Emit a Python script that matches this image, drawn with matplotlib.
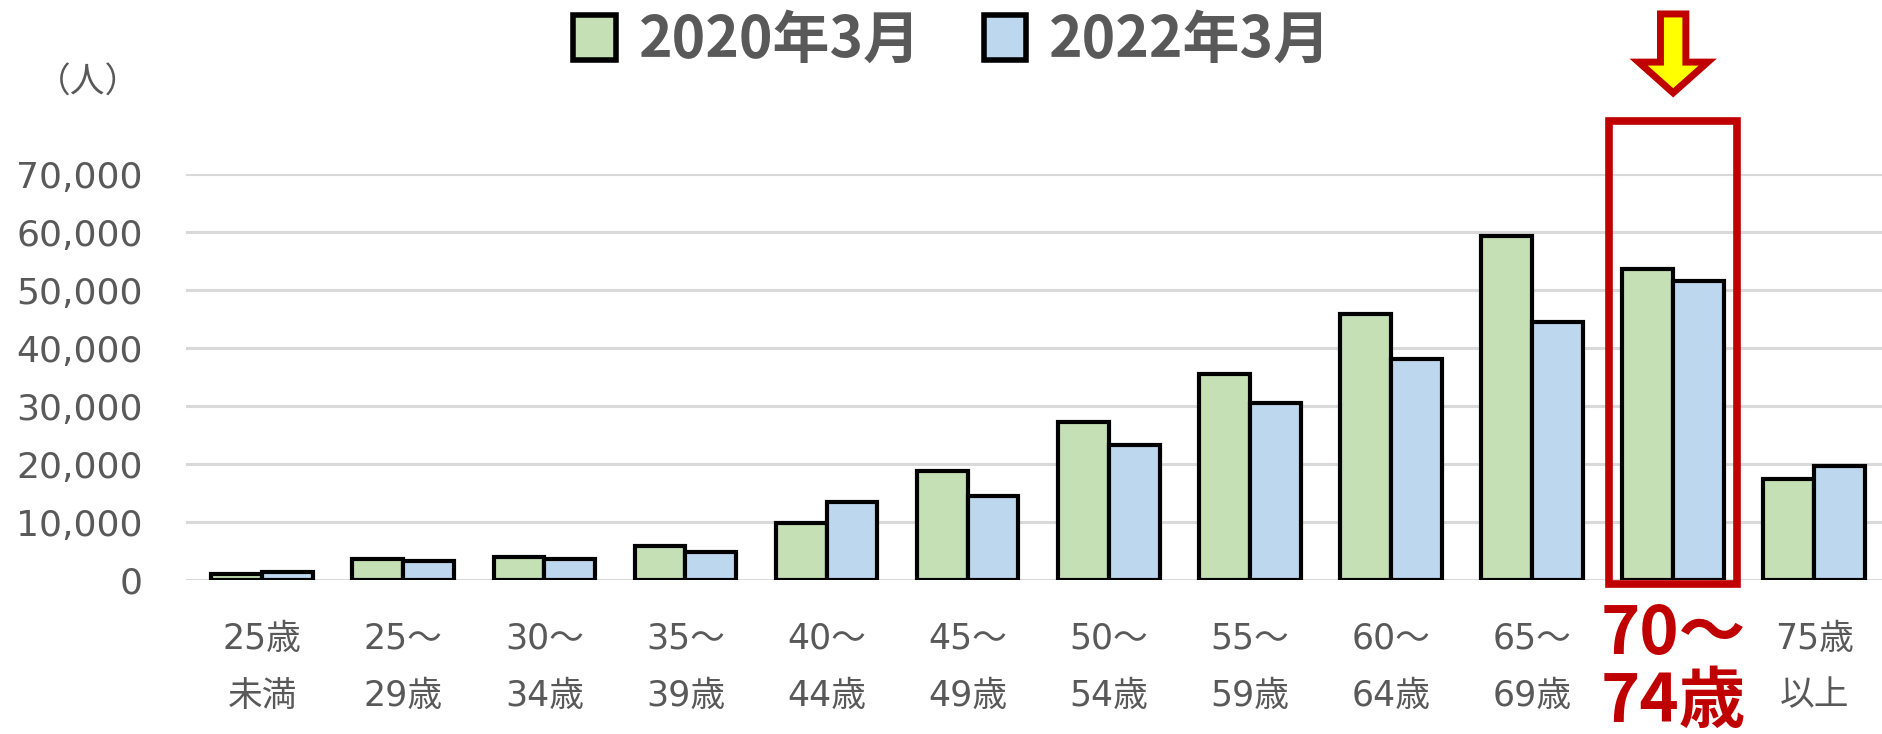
import numpy as np
import matplotlib
matplotlib.use("Agg")
import matplotlib.pyplot as plt
from matplotlib.patches import Patch, Rectangle, Polygon

plt.rcParams['font.family'] = ['Noto Sans CJK JP', 'DejaVu Sans']
latin_first = ['DejaVu Sans', 'Noto Sans CJK JP']

#%% Data
age_groups = ["25歳\n未満", "25～\n29歳", "30～\n34歳", "35～\n39歳", "40～\n44歳", "45～\n49歳",
              "50～\n54歳", "55～\n59歳", "60～\n64歳", "65～\n69歳", "70～\n74歳", "75歳\n以上"]
mar_2020 = [1000, 3700, 3900, 5800, 9900, 18800, 27300, 35600, 45800, 59400, 53600, 17400]
mar_2022 = [1400, 3300, 3700, 4800, 13500, 14500, 23200, 30600, 38100, 44500, 51600, 19700]
series_names = ["2020年3月", "2022年3月"]
y_ticks = [0, 10000, 20000, 30000, 40000, 50000, 60000, 70000]
highlight = 10   # 70～74歳

green = "#c5e0b4"
blue = "#bdd7ee"
red = "#c00000"
grey_txt = "#595959"

#%% Figure
fig = plt.figure(figsize=(18.82, 7.34), dpi=100)
ax = fig.add_axes([0.0988, 0.2098, 0.9012, 0.5531])

x = np.arange(len(age_groups))
w = 0.36
ax.bar(x - w/2, mar_2020, width=w, color=green, edgecolor="black", linewidth=3, zorder=3)
ax.bar(x + w/2, mar_2022, width=w, color=blue, edgecolor="black", linewidth=3, zorder=3)

ax.set_xlim(-0.54, 11.48)
ax.set_ylim(0, 70000)
ax.set_yticks(y_ticks)
ax.set_yticklabels([f"{v:,}" for v in y_ticks], fontsize=26, color=grey_txt, family=latin_first)
ax.tick_params(axis='y', length=0, pad=31)
ax.set_xticks([])
ax.yaxis.grid(True, color="#d9d9d9", linewidth=2.2, zorder=0)
for s in ax.spines.values():
    s.set_visible(False)

# category labels under the bars
for i, lab in enumerate(age_groups):
    if i == highlight:
        ax.annotate(lab, xy=(i, 0), xycoords=('data', 'axes fraction'), xytext=(0, -15),
                    textcoords='offset points', ha='center', va='top', fontsize=48,
                    fontweight='bold', color=red, linespacing=1.02)
    else:
        ax.annotate(lab, xy=(i, 0), xycoords=('data', 'axes fraction'), xytext=(0, -30),
                    textcoords='offset points', ha='center', va='top', fontsize=25,
                    color=grey_txt, linespacing=1.85, family=latin_first)

# unit label
fig.text(0.047, 0.887, "（人）", fontsize=25, color=grey_txt, ha='center', va='center')

# highlight box and arrow
ax.add_patch(Rectangle((highlight - 0.455, -700), 0.91, 79800, fill=False,
                       edgecolor=red, linewidth=5.5, clip_on=False, zorder=5))
sw, hw = 0.09, 0.245
top, base, tip = 97600, 89300, 84000
arrow_pts = [(highlight - sw, top), (highlight + sw, top), (highlight + sw, base),
             (highlight + hw, base), (highlight, tip), (highlight - hw, base),
             (highlight - sw, base)]
ax.add_patch(Polygon(arrow_pts, closed=True, facecolor="#ffff00", edgecolor=red,
                     linewidth=5, joinstyle='miter', clip_on=False, zorder=5))

# legend
handles = [Patch(facecolor=green, edgecolor="black", linewidth=4),
           Patch(facecolor=blue, edgecolor="black", linewidth=4)]
leg = fig.legend(handles, series_names, loc='center', bbox_to_anchor=(0.506, 0.945), ncol=2,
                 frameon=False, handlelength=0.75, handleheight=0.85, handletextpad=0.4,
                 columnspacing=1.1, prop={'size': 41, 'weight': 'bold'})
for t in leg.get_texts():
    t.set_color(grey_txt)

fig.savefig("out.png", dpi=100)
